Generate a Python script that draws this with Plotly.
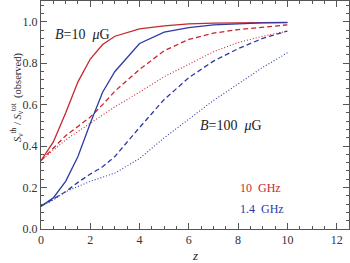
import plotly.graph_objects as go

z = [0, 0.5, 1, 1.5, 2, 2.5, 3, 4, 5, 6, 7, 8, 9, 10]

# 10 GHz (red)
red_b10 = [0.33, 0.42, 0.56, 0.71, 0.82, 0.89, 0.93, 0.965, 0.98, 0.99, 0.993, 0.995, 0.996, 0.997]
red_mid = [0.33, 0.39, 0.45, 0.495, 0.54, 0.60, 0.665, 0.77, 0.86, 0.915, 0.945, 0.962, 0.975, 0.985]
red_b100 = [0.33, 0.38, 0.43, 0.47, 0.51, 0.55, 0.59, 0.66, 0.735, 0.795, 0.855, 0.90, 0.93, 0.955]
# 1.4 GHz (blue)
blue_b10 = [0.11, 0.15, 0.23, 0.35, 0.51, 0.66, 0.76, 0.895, 0.95, 0.972, 0.985, 0.991, 0.994, 0.996]
blue_mid = [0.11, 0.145, 0.18, 0.225, 0.265, 0.30, 0.35, 0.49, 0.625, 0.73, 0.81, 0.87, 0.92, 0.955]
blue_b100 = [0.11, 0.14, 0.18, 0.205, 0.23, 0.25, 0.27, 0.34, 0.44, 0.53, 0.62, 0.70, 0.78, 0.85]

x_ticks = [0, 2, 4, 6, 8, 10, 12]
y_ticks = [0.0, 0.2, 0.4, 0.6, 0.8, 1.0]

RED = "#c8262e"
BLUE = "#2d3aa6"
SERIF = "Liberation Serif"

fig = go.Figure()
series = [
    (red_b10, RED, "solid", 1.3),
    (red_mid, RED, "5px,3px", 1.3),
    (red_b100, RED, "1px,2px", 1.1),
    (blue_b10, BLUE, "solid", 1.3),
    (blue_mid, BLUE, "5px,3px", 1.3),
    (blue_b100, BLUE, "1px,2px", 1.1),
]
for ys, col, dash, w in series:
    fig.add_trace(go.Scatter(x=z, y=ys, mode="lines",
                             line=dict(color=col, dash=dash, width=w),
                             showlegend=False, hoverinfo="skip"))

axis_common = dict(
    showgrid=False, zeroline=False, showline=True, linecolor="#555",
    linewidth=1, mirror="allticks", ticks="inside", ticklen=6,
    tickcolor="#555", tickfont=dict(family=SERIF, size=12, color="#333"),
)
fig.update_xaxes(range=[0, 12.5], tickvals=x_ticks,
                 ticktext=[str(v) for v in x_ticks],
                 minor=dict(dtick=0.5, ticklen=3, ticks="inside", tickcolor="#555"),
                 **axis_common)
fig.update_yaxes(range=[0, 1.1], tickvals=y_ticks,
                 ticktext=[f"{v:.1f}" for v in y_ticks],
                 minor=dict(dtick=0.04, tick0=0, ticklen=3, ticks="inside", tickcolor="#555"),
                 **axis_common)

ann_font = dict(family=SERIF, size=14, color="#222")
fig.add_annotation(x=1.7, y=0.94, text="<i>B</i>=10  <i>μ</i>G", showarrow=False,
                   font=ann_font, xref="x", yref="y")
fig.add_annotation(x=7.7, y=0.50, text="<i>B</i>=100  <i>μ</i>G", showarrow=False,
                   font=ann_font, xref="x", yref="y")
fig.add_annotation(x=8.0, y=0.197, text="10  GHz", showarrow=False, xanchor="left",
                   font=dict(family=SERIF, size=12, color=RED), xref="x", yref="y")
fig.add_annotation(x=8.0, y=0.096, text="1.4  GHz", showarrow=False, xanchor="left",
                   font=dict(family=SERIF, size=12, color=BLUE), xref="x", yref="y")
# axis titles
fig.add_annotation(xref="paper", yref="paper", x=0.5, y=-0.118, yanchor="middle",
                   text="<i>z</i>", showarrow=False,
                   font=dict(family=SERIF, size=13, color="#222"))
fig.add_annotation(xref="paper", yref="paper", x=-0.11, y=0.575, textangle=-90,
                   text="<i>S</i><sub>ν</sub><sup>th</sup> / <i>S</i><sub>ν</sub><sup>tot</sup>  (observed)",
                   showarrow=False, font=dict(family=SERIF, size=10.5, color="#222"))

fig.update_layout(width=350, height=263, margin=dict(l=41, r=1, t=1, b=34),
                  plot_bgcolor="white", paper_bgcolor="white", hovermode=False)
fig.write_html("out.html", config={"displayModeBar": False, "staticPlot": True},
               post_script="document.body.style.margin='0';document.body.style.padding='0';")
